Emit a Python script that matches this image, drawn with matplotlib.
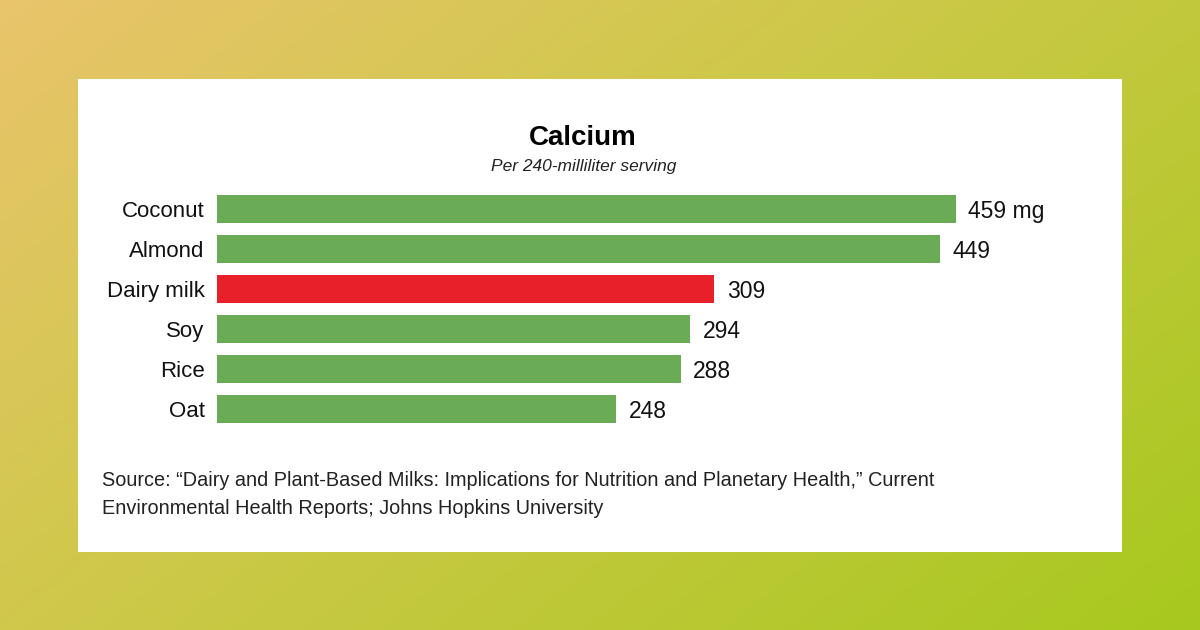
import matplotlib
matplotlib.use("Agg")
import matplotlib.pyplot as plt
import numpy as np
from matplotlib.colors import LinearSegmentedColormap
from matplotlib.patches import Rectangle

# data
milks = ["Coconut", "Almond", "Dairy milk", "Soy", "Rice", "Oat"]
calcium = [459, 449, 309, 294, 288, 248]
value_labels = ["459 mg", "449", "309", "294", "288", "248"]
highlight = "Dairy milk"

plt.rcParams['font.family'] = ['Liberation Sans', 'DejaVu Sans']

W, H = 1200, 630
fig = plt.figure(figsize=(12, 6.3), dpi=100)

# gradient background
bg = fig.add_axes([0, 0, 1, 1])
gx, gy = np.meshgrid(np.linspace(0, 1, 300), np.linspace(0, 1, 160))
t = (gx * 0.6 + gy * 0.4)
cmap = LinearSegmentedColormap.from_list("bg", ["#E9C46B", "#C9C944", "#A7C81E"])
bg.imshow(t, cmap=cmap, aspect="auto", extent=[0, 1, 0, 1], origin="upper")
bg.set_xlim(0, 1)
bg.set_ylim(0, 1)
bg.axis("off")

# white panel
fig.patches.append(Rectangle((78 / W, 1 - 552 / H), (1122 - 78) / W, (552 - 79) / H,
                             transform=fig.transFigure, facecolor="white",
                             edgecolor="none", zorder=1))

# bar axes
ax = fig.add_axes([217 / W, 1 - 429 / H, 805 / W, 240 / H])
ax.set_zorder(2)
ax.patch.set_alpha(0)
colors = ["#E8202A" if m == highlight else "#6AAB55" for m in milks]
y = np.arange(len(milks))
ax.barh(y, calcium, height=0.7, color=colors)
ax.set_xlim(0, 500)
ax.set_ylim(len(milks) - 0.5, -0.5)
for i, (v, lab) in enumerate(zip(calcium, value_labels)):
    ax.annotate(lab, (v, i), xytext=(9, 0), textcoords="offset points",
                va="center_baseline", ha="left", fontsize=16.5, color="#111111")
ax.set_yticks(y)
ax.set_yticklabels(milks, fontsize=16, color="#111111", va="center_baseline")
ax.tick_params(axis="y", length=0, pad=9)
ax.set_xticks([])
for s in ax.spines.values():
    s.set_visible(False)

# titles
fig.text(583 / W, 1 - 138 / H, "Calcium", ha="center", va="center",
         fontsize=20, fontweight="bold", color="black", zorder=3)
fig.text(584 / W, 1 - 167 / H, "Per 240-milliliter serving", ha="center", va="center",
         fontsize=12.5, style="italic", color="#222222", zorder=3)

# source
fig.text(102 / W, 1 - 481 / H,
         "Source: \u201cDairy and Plant-Based Milks: Implications for Nutrition and Planetary Health,\u201d Current",
         ha="left", va="center", fontsize=14.3, color="#222222", zorder=3)
fig.text(102 / W, 1 - 508 / H,
         "Environmental Health Reports; Johns Hopkins University",
         ha="left", va="center", fontsize=14.3, color="#222222", zorder=3)

fig.savefig("out.png", dpi=100)
